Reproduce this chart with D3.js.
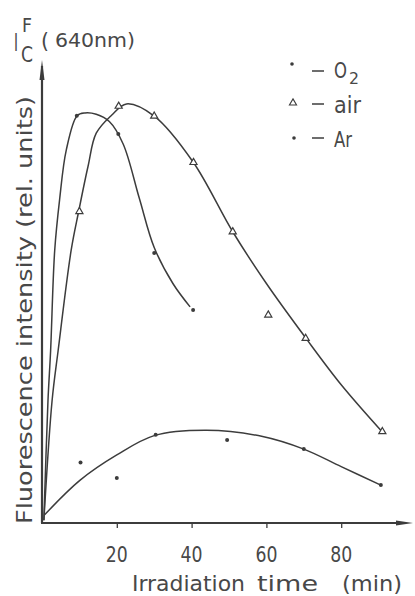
<!DOCTYPE html>
<html>
<head>
<meta charset="utf-8">
<script src="https://cdn.jsdelivr.net/npm/d3@7"></script>
<style>
  body { margin: 0; background: #fff; }
  svg text { font-family: "DejaVu Sans", sans-serif; fill: #484848; }
</style>
</head>
<body>
<div id="chart"></div>
<script>
// Measured points (irradiation time in min, intensity in rel. units)
const o2Time = [9.3, 20.4, 30, 40.4];
const o2Val = [90.3, 86.2, 59.8, 47.1];
const airTime = [10, 20.5, 30, 40.5, 51, 60.5, 70.5, 91];
const airVal = [69, 92.4, 90.2, 79.9, 64.5, 46, 40.8, 20.1];
const arTime = [10.3, 20, 30.4, 49.5, 70, 90.6];
const arVal = [13.2, 9.8, 19.4, 18.2, 16.2, 8.2];

// Hand drawn curves
const o2CurveT = [0.5, 1.6, 2.3, 3.4, 4.7, 6.5, 9.4, 11.5, 14.5, 18, 21.7, 26, 30, 35, 39.6];
const o2CurveV = [0.4, 27, 38, 60.4, 71.6, 82.7, 90.3, 90.9, 90.6, 89, 84, 72, 61, 53, 47.8];
const airCurveT = [0.5, 2.7, 4.3, 7.8, 9.8, 12.3, 14.5, 18.6, 22.6, 30, 40.4, 51, 60, 70.6, 80, 91];
const airCurveV = [0.4, 27, 38, 60.4, 69, 79, 86.4, 90.4, 92.9, 90.2, 80, 64.5, 53, 40.8, 30.5, 20];
const arCurveT = [0.7, 10.2, 20, 30, 44, 59, 70, 80, 90.6];
const arCurveV = [1.6, 9.3, 14.9, 19.2, 20.4, 19, 16.2, 12.3, 8.2];

const xTicks = [20, 40, 60, 80];

const width = 415, height = 596;
const ink = "#3c3c3c";

const svg = d3.select("#chart").append("svg")
  .attr("width", width)
  .attr("height", height);

const x = d3.scaleLinear().domain([0, 100]).range([42, 416]);
const y = d3.scaleLinear().domain([0, 100]).range([522, 72]);

// axes with arrow heads
svg.append("line")
  .attr("x1", x(0)).attr("y1", y(0) + 1)
  .attr("x2", x(0)).attr("y2", 66)
  .attr("stroke", ink).attr("stroke-width", 2.2);
svg.append("path")
  .attr("d", `M${x(0) - 2.5},80 L${x(0)},60 L${x(0) + 2.5},80 Z`)
  .attr("fill", ink);

svg.append("line")
  .attr("x1", x(0) - 1).attr("y1", y(0) + 1)
  .attr("x2", 404).attr("y2", y(0) + 1)
  .attr("stroke", ink).attr("stroke-width", 2);
svg.append("path")
  .attr("d", `M396,${y(0) - 1.5} L413,${y(0) + 1} L396,${y(0) + 3.5} Z`)
  .attr("fill", ink);

// x ticks
const xAxis = d3.axisBottom(x).tickValues(xTicks).tickSize(5).tickFormat("");
const gx = svg.append("g")
  .attr("transform", `translate(0,${y(0) + 1})`)
  .call(xAxis);
gx.select(".domain").remove();
gx.selectAll(".tick line").attr("stroke", ink).attr("stroke-width", 1.3);

svg.selectAll(".xlab")
  .data(xTicks)
  .enter().append("text")
  .attr("class", "xlab")
  .attr("x", d => x(d))
  .attr("y", 562)
  .attr("text-anchor", "middle")
  .attr("font-size", 22)
  .attr("textLength", 22)
  .attr("lengthAdjust", "spacingAndGlyphs")
  .text(d => d);

// axis titles
const xTitle = [["Irradiation", 132, 113], ["time", 257, 61], ["(min)", 342, 60]];
svg.selectAll(".xtitle")
  .data(xTitle)
  .enter().append("text")
  .attr("x", d => d[1])
  .attr("y", 591)
  .attr("font-size", 22)
  .attr("textLength", d => d[2])
  .attr("lengthAdjust", "spacingAndGlyphs")
  .text(d => d[0]);

svg.append("text")
  .attr("transform", "translate(32,524) rotate(-90)")
  .attr("font-size", 22)
  .attr("textLength", 428)
  .attr("lengthAdjust", "spacingAndGlyphs")
  .text("Fluorescence  intensity  (rel.  units)");

// I_C^F (640nm)
svg.append("text").attr("x", 14).attr("y", 51).attr("font-size", 24)
  .attr("textLength", 4).attr("lengthAdjust", "spacingAndGlyphs").text("I");
svg.append("text").attr("x", 22).attr("y", 32).attr("font-size", 19)
  .attr("textLength", 10).attr("lengthAdjust", "spacingAndGlyphs").text("F");
svg.append("text").attr("x", 21).attr("y", 62).attr("font-size", 21)
  .attr("textLength", 12).attr("lengthAdjust", "spacingAndGlyphs").text("C");
svg.append("text").attr("x", 41).attr("y", 48).attr("font-size", 22)
  .attr("textLength", 8).attr("lengthAdjust", "spacingAndGlyphs").text("(");
svg.append("text").attr("x", 55).attr("y", 47).attr("font-size", 20)
  .attr("textLength", 80).attr("lengthAdjust", "spacingAndGlyphs").text("640nm)");

// curves
const line = d3.line()
  .x(d => x(d[0]))
  .y(d => y(d[1]))
  .curve(d3.curveCatmullRom.alpha(0.5));

const curves = [
  d3.zip(o2CurveT, o2CurveV),
  d3.zip(airCurveT, airCurveV),
  d3.zip(arCurveT, arCurveV)
];
svg.selectAll(".curve")
  .data(curves)
  .enter().append("path")
  .attr("class", "curve")
  .attr("d", line)
  .attr("fill", "none")
  .attr("stroke", ink)
  .attr("stroke-width", 1.5);

// markers
const dotPts = d3.zip(o2Time, o2Val).concat(d3.zip(arTime, arVal));
svg.selectAll(".dot")
  .data(dotPts)
  .enter().append("circle")
  .attr("cx", d => x(d[0]))
  .attr("cy", d => y(d[1]))
  .attr("r", 2)
  .attr("fill", ink);

const tri = d3.symbol().type(d3.symbolTriangle).size(22);
svg.selectAll(".tri")
  .data(d3.zip(airTime, airVal))
  .enter().append("path")
  .attr("d", tri)
  .attr("transform", d => `translate(${x(d[0])},${y(d[1])})`)
  .attr("fill", "#fff")
  .attr("stroke", ink)
  .attr("stroke-width", 1.2);

// legend
svg.append("circle").attr("cx", 292).attr("cy", 64).attr("r", 1.8).attr("fill", ink);
svg.append("path").attr("d", tri).attr("transform", "translate(293,103)")
  .attr("fill", "#fff").attr("stroke", ink).attr("stroke-width", 1.1);
svg.append("circle").attr("cx", 294).attr("cy", 138).attr("r", 1.8).attr("fill", ink);

[71, 104, 138].forEach(yy => {
  svg.append("line").attr("x1", 312).attr("x2", 324).attr("y1", yy).attr("y2", yy)
    .attr("stroke", ink).attr("stroke-width", 1.5);
});
svg.append("text").attr("x", 334).attr("y", 78).attr("font-size", 21)
  .attr("textLength", 13).attr("lengthAdjust", "spacingAndGlyphs").text("O");
svg.append("text").attr("x", 349).attr("y", 84).attr("font-size", 16)
  .attr("textLength", 10).attr("lengthAdjust", "spacingAndGlyphs").text("2");
svg.append("text").attr("x", 334).attr("y", 113).attr("font-size", 23)
  .attr("textLength", 27).attr("lengthAdjust", "spacingAndGlyphs").text("air");
svg.append("text").attr("x", 334).attr("y", 147).attr("font-size", 22)
  .attr("textLength", 18).attr("lengthAdjust", "spacingAndGlyphs").text("Ar");
</script>
</body>
</html>
